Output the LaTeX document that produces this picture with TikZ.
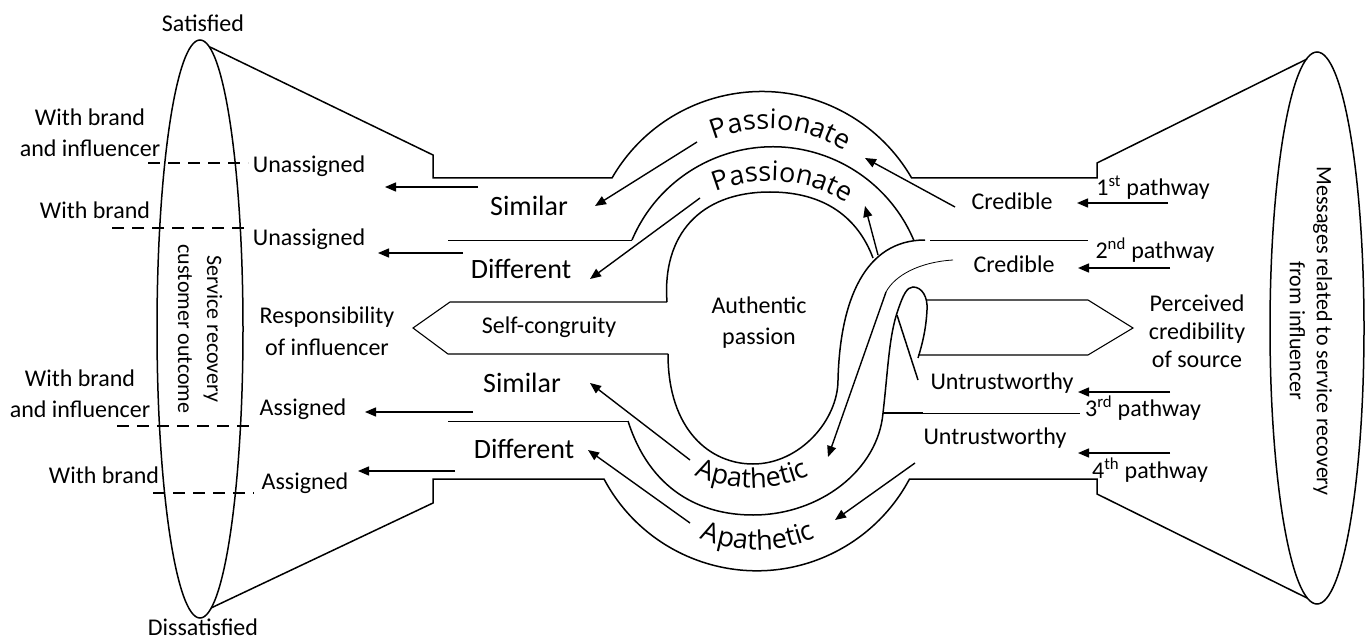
\documentclass[tikz,border=0pt]{standalone}
\usepackage{fontspec}
\setmainfont{Carlito}
\newfontfamily\curvefont{Open Sans}
\usetikzlibrary{arrows.meta,decorations.text}
\newcommand\curvetext{\fontsize{27}{30}\selectfont\curvefont}

\tikzset{
  line/.style={line width=1.5pt},
  thin line/.style={line width=0.8pt},
  arr/.style={line width=1.4pt, -{Triangle[length=11pt,width=9pt]}},
  dash line/.style={line width=2pt, dash pattern=on 12pt off 8pt},
  lbl/.style={inner sep=0pt, align=center, font=\fontsize{24}{31}\selectfont},
  big lbl/.style={inner sep=0pt, font=\fontsize{28}{32}\selectfont},
  curve text/.style={decorate, decoration={text along path, text align=center,
      text={|\curvetext|#1}}}
}

\begin{document}
\begin{tikzpicture}[x=1pt, y=1pt]
  \useasboundingbox (0,0) rectangle (1371,-639);

  % ---- ellipses at both ends ----
  \draw[line] (200,-329) ellipse [x radius=43pt, y radius=289pt];
  \draw[line] (1317,-328) ellipse [x radius=47pt, y radius=276pt];

  % ---- funnel outline (top and bottom) ----
  \draw[line] (210,-47) -- (433,-155) -- (433,-178) -- (612,-178)
    arc[start angle=150, end angle=30, radius=173pt]
    -- (1097,-178) -- (1097,-163) -- (1307,-59);
  \draw[line] (211,-608) -- (433,-503) -- (433,-479) -- (604,-479)
    arc[start angle=208, end angle=332, radius=173pt]
    -- (1097,-479) -- (1097,-494) -- (1307,-598);

  % ---- inner bands ----
  \draw[thin line] (448,-240) -- (632,-240);
  \draw[line] (632,-240) arc[start angle=157, end angle=23, radius=153pt];
  \draw[thin line] (930,-240) -- (1088,-240);
  % authentic passion oval, upper half
  \draw[line] (667,-302) .. controls (662,-235) and (700,-192) .. (770,-192)
    .. controls (825,-192) and (858,-218) .. (873,-258);
  % lower half running up into the knot
  \draw[line] (668,-354) .. controls (668,-430) and (710,-464) .. (753,-464)
    .. controls (800,-464) and (838,-420) .. (838,-380)
    .. controls (840,-300) and (865,-240) .. (925,-240);
  % apathetic band and small loop
  \draw[thin line] (448,-421) -- (628,-421);
  \draw[line] (628,-421) .. controls (650,-490) and (700,-515) .. (753,-515)
    .. controls (820,-515) and (878,-470) .. (883,-413)
    .. controls (888,-370) and (889,-335) .. (898,-310)
    .. controls (903,-295) and (907,-287) .. (913,-287)
    .. controls (922,-287) and (928,-297) .. (927,-310)
    .. controls (926,-330) and (922,-345) .. (918,-358);
  \draw[line] (883,-413) -- (923,-413);
  \draw[thin line] (923,-413) -- (1080,-413);
  \draw[thin line] (953,-260) .. controls (920,-262) and (895,-275) .. (886,-292);
  \draw[line] (897,-315) -- (918,-380);

  % ---- the two pentagons ----
  \draw[line width=1.1pt] (667,-302) -- (450,-302) -- (413,-328) -- (448,-354) -- (668,-354);
  \draw[line width=1.1pt] (927,-300) -- (1088,-300) -- (1133,-328) -- (1088,-355) -- (918,-355);

  % ---- dashed attribution lines ----
  \draw[dash line] (148,-163) -- (248,-163);
  \draw[dash line] (112,-228) -- (245,-228);
  \draw[dash line] (117,-426) -- (254,-426);
  \draw[dash line] (153,-493) -- (254,-493);

  % ---- arrows ----
  \foreach \nm/\sx/\sy/\ex/\ey in {
      unA/478/187/385/187, unB/463/253/378/253,
      asA/473/412/365/412, asB/455/471/358/471,
      crPa/955/207/865/158, paSi/697/142/595/206,
      paDi/700/198/590/279, crPb/878/255/865/206,
      knAp/886/292/828/457, unAp/915/463/835/520,
      apSi/690/460/590/383, apDi/690/523/588/450,
      pwA/1168/203/1077/203, pwB/1170/268/1078/268,
      pwC/1170/392/1078/392, pwD/1170/453/1078/453}{
    \coordinate (\nm-s) at (\sx,-\sy);
    \coordinate (\nm-e) at (\ex,-\ey);
    \draw[arr] (\nm-s) -- (\nm-e);
  }

  % ---- curved band labels ----
  \path[curve text=Passionate] (768,-274) ++(140:145pt)
    arc[start angle=140, end angle=30, radius=145pt];
  \path[curve text=Passionate] (770,-326) ++(140:145pt)
    arc[start angle=140, end angle=30, radius=145pt];
  \path[curve text=Apathetic] (752,-350) ++(220:138pt)
    arc[start angle=220, end angle=320, radius=138pt];
  \path[curve text=Apathetic] (758,-402) ++(220:148pt)
    arc[start angle=220, end angle=320, radius=148pt];

  % ---- left side labels ----
  \node[lbl] (satisfied) at (203,-23) {Satisfied};
  \node[lbl] (dissatisfied) at (203,-627) {Dissatisfied};
  \node[lbl, rotate=-90, font=\fontsize{22}{29}\selectfont] (outcome) at (200,-329)
    {Service recovery\\customer outcome};
  \node[lbl] (brandInfA) at (90,-133) {With brand\\and influencer};
  \node[lbl] (brandA) at (95,-210) {With brand};
  \node[lbl] (brandInfB) at (80,-394) {With brand\\and influencer};
  \node[lbl] (brandB) at (104,-475) {With brand};
  \node[lbl] (unassA) at (309,-166) {Unassigned};
  \node[lbl] (unassB) at (309,-239) {Unassigned};
  \node[lbl, font=\fontsize{24}{32}\selectfont] (respInf) at (327,-331)
    {Responsibility\\of influencer};
  \node[lbl] (assA) at (303,-409) {Assigned};
  \node[lbl] (assB) at (305,-483) {Assigned};

  % ---- centre labels ----
  \node[big lbl] (simA) at (529,-206) {Similar};
  \node[big lbl] (difA) at (521,-269) {Different};
  \node[lbl] (selfCong) at (549,-327) {Self-congruity};
  \node[big lbl] (simB) at (522,-383) {Similar};
  \node[big lbl] (difB) at (524,-449) {Different};
  \node[lbl] (authPass) at (759,-323) {Authentic\\passion};

  % ---- right side labels ----
  \node[lbl] (credA) at (1012,-201) {Credible};
  \node[lbl] (credB) at (1014,-264) {Credible};
  \node[lbl] (untrA) at (1002,-383) {Untrustworthy};
  \node[lbl] (untrB) at (995,-438) {Untrustworthy};
  \node[lbl, font=\fontsize{24}{28}\selectfont] (percCred) at (1197,-331)
    {Perceived\\credibility\\of source};
  \node[lbl] (pathA) at (1153,-188) {1\textsuperscript{st} pathway};
  \node[lbl] (pathB) at (1155,-250) {2\textsuperscript{nd} pathway};
  \node[lbl] (pathC) at (1143,-408) {3\textsuperscript{rd} pathway};
  \node[lbl] (pathD) at (1150,-470) {4\textsuperscript{th} pathway};
  \node[lbl, rotate=-90, font=\fontsize{22}{27}\selectfont] (messages) at (1311,-331)
    {Messages related to service recovery\\from influencer};

\end{tikzpicture}
\end{document}
